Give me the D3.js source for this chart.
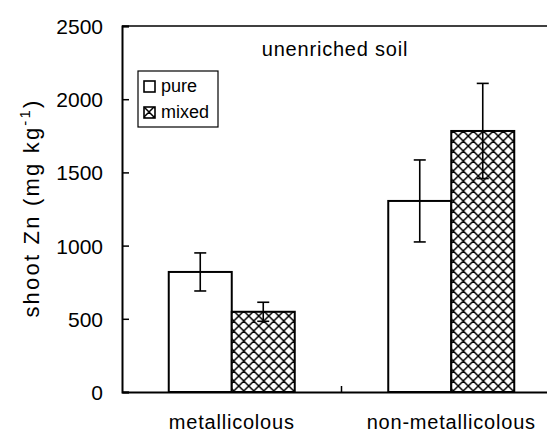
<!DOCTYPE html>
<html>
<head>
<meta charset="utf-8">
<script src="https://cdn.jsdelivr.net/npm/d3@7"></script>
<style>
  body { margin: 0; background: #fff; }
  text { font-family: "Liberation Sans", Arial, sans-serif; fill: #000; }
</style>
</head>
<body>
<div id="chart"></div>
<script>
// data
var categories = ["metallicolous", "non-metallicolous"];
var series = ["pure", "mixed"];
var pureMeans = [820, 1305];
var pureErr = [130, 280];
var mixedMeans = [548, 1783];
var mixedErr = [65, 325];
var yTicks = [0, 500, 1000, 1500, 2000, 2500];

var W = 547, H = 435;
var margin = {top: 26, right: -14, bottom: 43, left: 122},
    width = W - margin.left - margin.right,
    height = H - margin.top - margin.bottom;

var svg = d3.select("#chart").append("svg")
    .attr("width", W).attr("height", H);

// cross hatch for the mixed bars
var defs = svg.append("defs");
var pat = defs.append("pattern")
    .attr("id", "xhatch")
    .attr("patternUnits", "userSpaceOnUse")
    .attr("width", 10).attr("height", 10);
pat.append("rect").attr("width", 10).attr("height", 10).attr("fill", "white");
pat.append("path")
    .attr("d", "M0,0 L10,10 M10,0 L0,10 M-5,5 L5,15 M5,-5 L15,5 M-5,5 L5,-5 M5,15 L15,5")
    .attr("stroke", "black").attr("stroke-width", 1.5);

var g = svg.append("g")
    .attr("transform", "translate(" + margin.left + "," + margin.top + ")");

var x0 = d3.scaleBand().domain(categories).range([0, width]).padding(0);
var x1 = d3.scaleBand().domain(series).range([0, 126]);
var y = d3.scaleLinear().domain([0, 2500]).range([height, 0]);

var rows = categories.map(function(c, i) {
    return [
        {cat: c, s: "pure", v: pureMeans[i], e: pureErr[i]},
        {cat: c, s: "mixed", v: mixedMeans[i], e: mixedErr[i]}
    ];
});

var grp = g.selectAll("g.cat").data(rows).enter().append("g")
    .attr("class", "cat")
    .attr("transform", function(d) {
        return "translate(" + (x0(d[0].cat) + x0.bandwidth() / 2 - 63) + ",0)";
    });

grp.selectAll("rect").data(function(d) { return d; }).enter().append("rect")
    .attr("x", function(d) { return x1(d.s); })
    .attr("y", function(d) { return y(d.v); })
    .attr("width", x1.bandwidth())
    .attr("height", function(d) { return height - y(d.v); })
    .attr("fill", function(d) { return d.s == "pure" ? "white" : "url(#xhatch)"; })
    .attr("stroke", "black").attr("stroke-width", 2);

// error bars
var eb = grp.selectAll("g.err").data(function(d) { return d; }).enter().append("g")
    .attr("class", "err")
    .attr("transform", function(d) { return "translate(" + (x1(d.s) + x1.bandwidth() / 2) + ",0)"; });
eb.append("line")
    .attr("y1", function(d) { return y(d.v + d.e); })
    .attr("y2", function(d) { return y(d.v - d.e); })
    .attr("stroke", "black").attr("stroke-width", 1.6);
eb.append("line").attr("x1", -6).attr("x2", 6)
    .attr("y1", function(d) { return y(d.v + d.e); })
    .attr("y2", function(d) { return y(d.v + d.e); })
    .attr("stroke", "black").attr("stroke-width", 1.6);
eb.append("line").attr("x1", -6).attr("x2", 6)
    .attr("y1", function(d) { return y(d.v - d.e); })
    .attr("y2", function(d) { return y(d.v - d.e); })
    .attr("stroke", "black").attr("stroke-width", 1.6);

// axes
var yAxis = g.append("g")
    .call(d3.axisLeft(y).tickValues(yTicks).tickSize(-7).tickPadding(19).tickFormat(d3.format("d")));
yAxis.select(".domain").attr("stroke-width", 2);
yAxis.selectAll(".tick line").attr("stroke-width", 1.5);
yAxis.selectAll("text").attr("font-size", 21).attr("dy", "0.36em");

var xAxis = g.append("g")
    .attr("transform", "translate(0," + height + ")")
    .call(d3.axisBottom(x0).tickSize(0).tickPadding(23));
xAxis.select(".domain").attr("stroke-width", 2);
xAxis.selectAll("text").attr("font-size", 20).attr("letter-spacing", 0.8);
// divider tick between groups
xAxis.append("line")
    .attr("x1", x0.bandwidth()).attr("x2", x0.bandwidth())
    .attr("y1", 0).attr("y2", -6)
    .attr("stroke", "black").attr("stroke-width", 1.5);

// top frame
g.append("line").attr("x1", 0).attr("x2", width).attr("y1", 0).attr("y2", 0)
    .attr("stroke", "black").attr("stroke-width", 1.5);

// y label
svg.append("text")
    .attr("transform", "translate(39,208) rotate(-90)")
    .attr("text-anchor", "middle")
    .attr("font-size", 22)
    .attr("letter-spacing", 2.2)
    .html('shoot Zn (mg kg<tspan dy="-9" font-size="15">-1</tspan><tspan dy="9">)</tspan>');

// panel title
svg.append("text").attr("x", 335).attr("y", 56)
    .attr("text-anchor", "middle").attr("font-size", 20)
    .attr("letter-spacing", 0.8)
    .text("unenriched soil");

// legend
var leg = svg.append("g").attr("transform", "translate(138,71)");
leg.append("rect").attr("width", 80).attr("height", 56)
    .attr("fill", "white").attr("stroke", "black").attr("stroke-width", 1.2);
var li = leg.selectAll("g.li").data(series).enter().append("g")
    .attr("class", "li")
    .attr("transform", function(d, i) { return "translate(6," + (10 + i * 26) + ")"; });
li.append("rect").attr("width", 11).attr("height", 11)
    .attr("fill", function(d) { return d == "pure" ? "white" : "url(#xhatch)"; })
    .attr("stroke", "black").attr("stroke-width", 1.6);
li.append("text").attr("x", 17).attr("y", 11).attr("font-size", 18)
    .text(function(d) { return d; });
</script>
</body>
</html>
